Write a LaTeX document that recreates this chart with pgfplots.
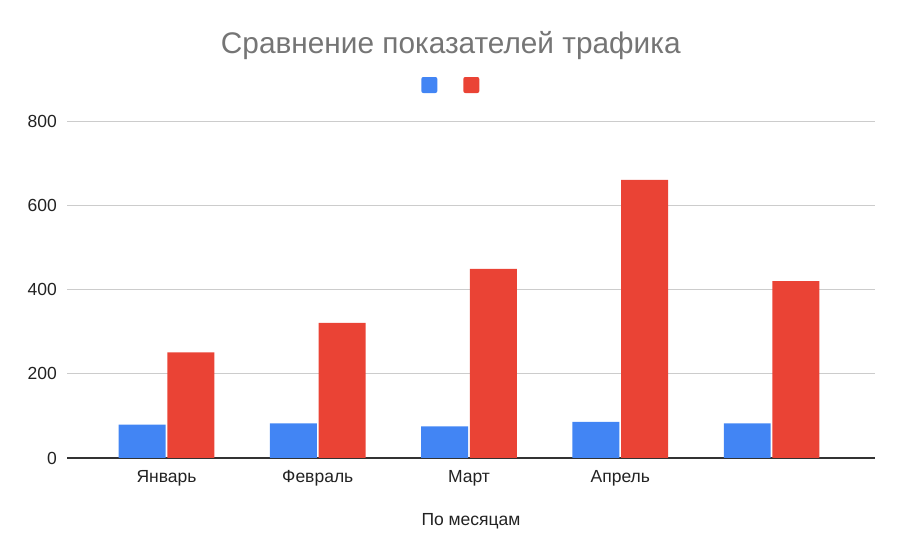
\documentclass[border=0pt]{standalone}
\usepackage{pgfplots}
\pgfplotsset{compat=1.18}
\usepackage{fontspec}
\setmainfont{Liberation Sans}

\definecolor{gblue}{HTML}{4285F4}
\definecolor{gred}{HTML}{EA4335}
\definecolor{titlegray}{HTML}{757575}
\definecolor{gridgray}{HTML}{CCCCCC}
\definecolor{textdark}{HTML}{222222}

% monthly traffic, two series
\pgfplotstableread{
x blue red
0 79 251
1 82 321
2 75 449
3 86 660
4 82 420
}\traffic

\begin{document}
\begin{tikzpicture}
\useasboundingbox (0,0) rectangle (907bp,557bp);
\begin{axis}[
    at={(67bp,99bp)}, anchor=south west,
    scale only axis,
    width=808bp, height=337bp,
    ybar, bar width=0.31,
    xmin=-0.658, xmax=4.684,
    ymin=0, ymax=800,
    xtick=data,
    xticklabels={Январь,Февраль,Март,Апрель,{}},
    ytick={200,400,600,800},
    extra y ticks={0},
    extra y tick style={grid style={draw=black!80, line width=1.3bp}},
    ymajorgrids,
    grid style={draw=gridgray, line width=0.9bp},
    axis line style={draw=none},
    major tick length=0pt,
    /pgf/number format/assume math mode=true,
    tick label style={font=\fontsize{17.5bp}{20bp}\selectfont, text=textdark},
    yticklabel style={inner sep=0pt, xshift=-10bp},
    xticklabel style={anchor=base, yshift=-24bp},
    xlabel={По месяцам},
    xlabel style={at={(axis description cs:0.5,0)}, anchor=base, yshift=-67bp,
        font=\fontsize{17.5bp}{20bp}\selectfont, text=textdark},
    title={Сравнение показателей трафика},
    title style={at={(axis description cs:0.475,1)}, anchor=base, yshift=62bp,
        font=\fontsize{29.8bp}{34bp}\selectfont, text=titlegray},
    legend columns=2,
    legend image code/.code={\fill[#1, rounded corners=2bp] (0bp,-8bp) rectangle (16bp,8bp);},
    legend style={at={(axis description cs:0.475,1)}, anchor=center, yshift=36bp,
        draw=none, fill=none, nodes={inner sep=0pt},
        /tikz/every odd column/.append style={column sep=0pt},
        /tikz/every even column/.append style={column sep=25bp}},
]
\addplot[fill=gblue, draw=none, bar shift=-0.161] table[x=x, y=blue] {\traffic};
\addlegendentry{}
\addplot[fill=gred, draw=none, bar shift=0.161] table[x=x, y=red] {\traffic};
\addlegendentry{}
\end{axis}
\end{tikzpicture}
\end{document}
